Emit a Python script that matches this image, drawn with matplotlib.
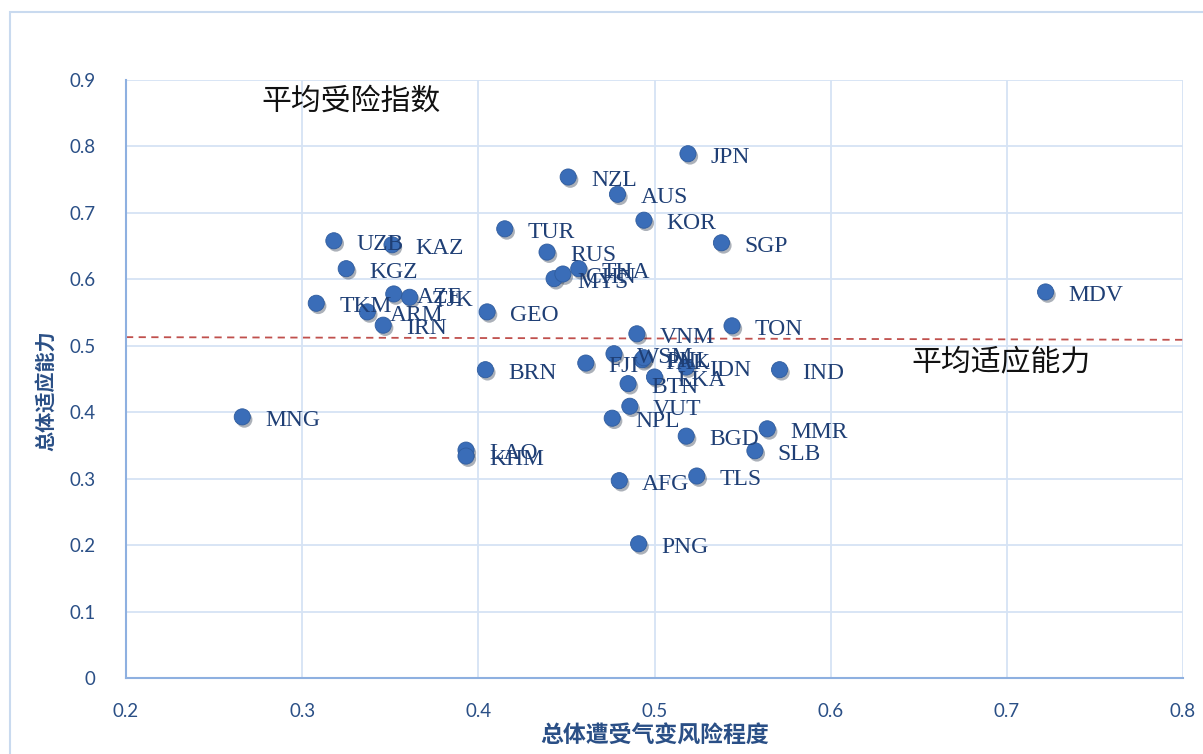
import matplotlib
matplotlib.use("Agg")
import matplotlib.pyplot as plt
from matplotlib.patches import Rectangle
import matplotlib.patheffects as pe

plt.rcParams['font.family'] = ['Noto Sans CJK SC', 'DejaVu Sans']

countries = ["JPN", "NZL", "AUS", "KOR", "SGP", "TUR", "UZB", "KAZ", "KGZ", "RUS",
             "MYS", "CHN", "THA", "AZE", "TJK", "TKM", "ARM", "IRN", "GEO", "VNM",
             "TON", "MDV", "IND", "BRN", "FJI", "WSM", "PAK", "PHL", "IDN", "BTN",
             "LKA", "VUT", "NPL", "MNG", "LAO", "KHM", "BGD", "MMR", "SLB", "TLS",
             "AFG", "PNG"]
exposure = [0.519, 0.451, 0.479, 0.494, 0.538, 0.415, 0.318, 0.351, 0.325, 0.439,
            0.443, 0.448, 0.457, 0.352, 0.361, 0.308, 0.337, 0.346, 0.405, 0.490,
            0.544, 0.722, 0.571, 0.404, 0.461, 0.477, 0.493, 0.494, 0.518, 0.485,
            0.500, 0.486, 0.476, 0.266, 0.393, 0.393, 0.518, 0.564, 0.557, 0.524,
            0.480, 0.491]
adaptation = [0.789, 0.754, 0.728, 0.689, 0.655, 0.676, 0.658, 0.652, 0.616, 0.641,
              0.601, 0.608, 0.616, 0.578, 0.573, 0.564, 0.551, 0.531, 0.551, 0.518,
              0.530, 0.581, 0.464, 0.464, 0.474, 0.488, 0.479, 0.482, 0.468, 0.443,
              0.453, 0.409, 0.391, 0.393, 0.343, 0.334, 0.364, 0.375, 0.342, 0.304,
              0.297, 0.202]
avg_line_x = [0.2, 0.8]
avg_line_y = [0.513, 0.509]

xticks = [0.2, 0.3, 0.4, 0.5, 0.6, 0.7, 0.8]
xticklabels = ["0.2", "0.3", "0.4", "0.5", "0.6", "0.7", "0.8"]
yticks = [0, 0.1, 0.2, 0.3, 0.4, 0.5, 0.6, 0.7, 0.8, 0.9]
yticklabels = ["0", "0.1", "0.2", "0.3", "0.4", "0.5", "0.6", "0.7", "0.8", "0.9"]

W, H = 1203, 754
fig = plt.figure(figsize=(W / 100, H / 100), dpi=100)
fig.patches.append(Rectangle((10 / W, -0.1), 1.2, 1 - 12 / H + 0.1, transform=fig.transFigure,
                             fill=False, edgecolor='#C9DAEF', linewidth=1.5, zorder=0))
ax = fig.add_axes([126 / W, 1 - 678 / H, (1183 - 126) / W, (678 - 80) / H])

ax.set_xlim(0.2, 0.8)
ax.set_ylim(0, 0.9)
ax.set_xticks(xticks)
ax.set_xticklabels(xticklabels)
ax.set_yticks(yticks)
ax.set_yticklabels(yticklabels)
ax.grid(True, color='#D6E3F4', linewidth=1.3, zorder=0)
ax.set_axisbelow(True)
for s in ['top', 'right']:
    ax.spines[s].set_visible(False)
for s in ['left', 'bottom']:
    ax.spines[s].set_color('#8EB0E0')
    ax.spines[s].set_linewidth(1.5)
ax.tick_params(axis='y', length=0, labelsize=13.5, labelcolor='#2A4F86', pad=22)
ax.tick_params(axis='x', length=0, labelsize=13.5, labelcolor='#2A4F86', pad=18)
for lab in ax.get_xticklabels() + ax.get_yticklabels():
    lab.set_family(['Lato', 'DejaVu Sans'])

ax.plot(avg_line_x, avg_line_y, color='#C0504D', linestyle=(0, (4, 3)), linewidth=1.3, zorder=2)

ax.scatter(exposure, adaptation, s=135, color='#3A6DB8', edgecolors='#2F5C9E', linewidths=0.6,
           zorder=3, path_effects=[pe.SimplePatchShadow(offset=(1.5, -2), alpha=0.35), pe.Normal()])

for c, x, y in zip(countries, exposure, adaptation):
    ax.annotate(c, (x, y), xytext=(16.5, -2.5), textcoords='offset points', va='center', ha='left',
                fontsize=17, color='#1F3F75', family=['Liberation Serif'], zorder=4)

ax.text(0.277, 0.868, "平均受险指数", fontsize=21.5, color='#111111', va='center', ha='left')
ax.text(0.646, 0.476, "平均适应能力", fontsize=21.5, color='#111111', va='center', ha='left')

ax.set_xlabel("总体遭受气变风险程度", fontsize=16.5, fontweight='bold', color='#2A4F86')
ax.xaxis.set_label_coords(0.5, -0.078, transform=ax.transAxes)
ax.set_ylabel("总体适应能力", fontsize=14.5, fontweight='bold', color='#2A4F86')
ax.yaxis.set_label_coords(-0.066, 0.48, transform=ax.transAxes)

fig.savefig("out.png", dpi=100)
